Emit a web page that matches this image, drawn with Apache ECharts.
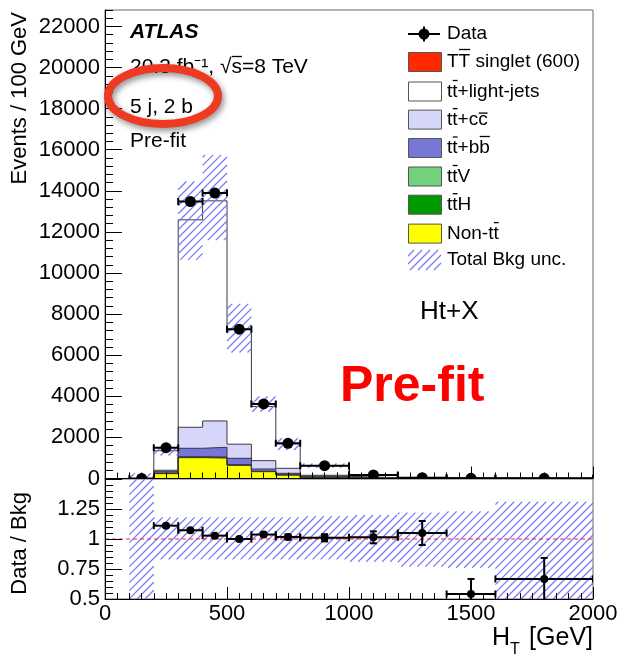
<!DOCTYPE html>
<html>
<head>
<meta charset="utf-8">
<title>HT pre-fit, 5 j 2 b</title>
<script src="https://cdn.jsdelivr.net/npm/echarts@6.0.0/dist/echarts.min.js"></script>
<style>
  html, body { margin: 0; padding: 0; background: #ffffff; }
  #chart { width: 620px; height: 661px; }
</style>
</head>
<body>
<div id="chart"></div>
<script>
// bins in GeV
const binLow  = [100, 200, 300, 400, 500, 600, 700, 800, 1000, 1200, 1400, 1600];
const binHigh = [200, 300, 400, 500, 600, 700, 800, 1000, 1200, 1400, 1600, 2000];

// background components, events / 100 GeV (bottom of the stack first)
const nonTT   = [0, 235, 1013, 995, 640, 333, 170, 58, 15, 5, 2, 2];
const ttH     = [0, 10, 20, 20, 15, 8, 5, 4, 2, 1, 0, 0];
const ttV     = [0, 15, 30, 30, 20, 12, 8, 6, 3, 1, 1, 0];
const ttbb    = [0, 73, 407, 475, 308, 110, 70, 40, 15, 5, 2, 2];
const ttcc    = [0, 67, 1023, 1280, 687, 404, 243, 48, 15, 5, 3, 2];
const ttlight = [0, 951, 10097, 10712, 5595, 2635, 1188, 464, 120, 23, 12, 9];

// total background uncertainty band (events)
const bandLow  = [0, 1120, 10640, 11600, 6130, 3250, 1390, 520, 140, 30, 14, 10];
const bandHigh = [260, 1600, 14450, 15750, 8500, 3990, 1960, 730, 200, 55, 26, 20];

// data
const dataY = [5, 1500, 13480, 13890, 7265, 3628, 1713, 625, 172, 42, 11, 10];

// ratio panel
const ratioVal   = [null, 1.111, 1.073, 1.028, 1.0, 1.037, 1.017, 1.01, 1.014, 1.05, 0.542, 0.667];
const ratioErr   = [null, 0.012, 0.008, 0.008, 0.01, 0.015, 0.02, 0.03, 0.05, 0.1, 0.125, 0.175];
const ratioBandLow  = [0, 0.83, 0.83, 0.83, 0.83, 0.83, 0.83, 0.83, 0.81, 0.77, 0.76, 0.3];
const ratioBandHigh = [3, 1.18, 1.18, 1.18, 1.18, 1.18, 1.18, 1.19, 1.2, 1.22, 1.23, 1.31];

// axis ticks
const yMajorTicks = [0, 2000, 4000, 6000, 8000, 10000, 12000, 14000, 16000, 18000, 20000, 22000];

const FONT = '"Liberation Sans", Arial, Helvetica, sans-serif';
const HATCH = '#7a7af5';

// diagonal "/" hatch lines inside a rectangle, aligned to the page
function hatchLines(x0, y0, w, h) {
  const step = 8;
  const x1 = x0 + w, y1 = y0 + h;
  const out = [];
  for (let k = Math.ceil((x0 + y0) / step) * step; k <= x1 + y1; k += step) {
    const xa = Math.max(x0, k - y1), xb = Math.min(x1, k - y0);
    if (xb - xa < 0.5) continue;
    out.push({ type: 'line', silent: true, z: 100,
      shape: { x1: xa, y1: k - xa, x2: xb, y2: k - xb },
      style: { stroke: HATCH, lineWidth: 1.3 } });
  }
  return out;
}

const sumArr = (...arrs) => arrs[0].map((_, i) => arrs.reduce((s, a) => s + a[i], 0));
const cumH = sumArr(nonTT, ttH);
const cumV = sumArr(nonTT, ttH, ttV);
const cumBB = sumArr(nonTT, ttH, ttV, ttbb);
const cumCC = sumArr(nonTT, ttH, ttV, ttbb, ttcc);
const cumAll = sumArr(nonTT, ttH, ttV, ttbb, ttcc, ttlight);

function stepPoints(vals) {
  const pts = [[binLow[1], 0]];
  for (let i = 1; i < vals.length; i++) {
    pts.push([binLow[i], vals[i]], [binHigh[i], vals[i]]);
  }
  pts.push([binHigh[vals.length - 1], 0]);
  return pts;
}

const stackDefs = [
  { vals: cumAll, color: '#ffffff' },
  { vals: cumCC, color: '#d6d6fa' },
  { vals: cumBB, color: '#7676d6' },
  { vals: cumV, color: '#72d17c' },
  { vals: cumH, color: '#009a00' },
  { vals: nonTT, color: '#ffff00' }
];

const stackSeries = stackDefs.map(d => ({
  type: 'line',
  xAxisIndex: 0, yAxisIndex: 0,
  data: stepPoints(d.vals),
  symbol: 'none',
  silent: true,
  lineStyle: { color: '#3a3a3a', width: 1 },
  areaStyle: { color: d.color, opacity: 1 },
  z: 2
}));

function clipOf(params) {
  const cs = params.coordSys;
  return { x: cs.x, y: cs.y, width: cs.width, height: cs.height };
}

function renderBand(params, api) {
  const a = api.coord([api.value(0), api.value(3)]);
  const b = api.coord([api.value(1), api.value(2)]);
  const rect = echarts.graphic.clipRectByRect(
    { x: a[0], y: a[1], width: b[0] - a[0], height: b[1] - a[1] }, clipOf(params));
  if (!rect) return null;
  return { type: 'group', children: hatchLines(rect.x, rect.y, rect.width, rect.height) };
}

function errBars(params, api, cap, r) {
  const x = api.value(0), y = api.value(1);
  const c = api.coord([x, y]);
  const l = api.coord([api.value(2), y]);
  const h = api.coord([api.value(3), y]);
  const st = { stroke: '#000', lineWidth: 2 };
  const kids = [
    { type: 'line', shape: { x1: l[0], y1: c[1], x2: h[0], y2: c[1] }, style: st },
    { type: 'line', shape: { x1: l[0], y1: c[1] - cap, x2: l[0], y2: c[1] + cap }, style: st },
    { type: 'line', shape: { x1: h[0], y1: c[1] - cap, x2: h[0], y2: c[1] + cap }, style: st }
  ];
  if (api.value(4) != null && !isNaN(api.value(4))) {
    const lo = api.coord([x, api.value(4)]);
    const hi = api.coord([x, api.value(5)]);
    kids.push(
      { type: 'line', shape: { x1: c[0], y1: lo[1], x2: c[0], y2: hi[1] }, style: st },
      { type: 'line', shape: { x1: c[0] - cap, y1: lo[1], x2: c[0] + cap, y2: lo[1] }, style: st },
      { type: 'line', shape: { x1: c[0] - cap, y1: hi[1], x2: c[0] + cap, y2: hi[1] }, style: st }
    );
  }
  kids.push({ type: 'circle', shape: { cx: c[0], cy: c[1], r: r }, style: { fill: '#000' } });
  return { type: 'group', clipPath: { type: 'rect', shape: clipOf(params) }, children: kids };
}

const centers = binLow.map((lo, i) => (lo + binHigh[i]) / 2);
const mainData = dataY.map((v, i) => [centers[i], v, binLow[i], binHigh[i]]);
const ratioData = [];
ratioVal.forEach((v, i) => {
  if (v != null) ratioData.push([centers[i], v, binLow[i], binHigh[i], v - ratioErr[i], v + ratioErr[i]]);
});

// ---- text helpers (overlines drawn as short lines above characters)
const measureCtx = document.createElement('canvas').getContext('2d');
function textBar(x, y, parts, size, extra) {
  extra = extra || {};
  measureCtx.font = (extra.fontStyle || 'normal') + ' ' + (extra.fontWeight || 'normal') + ' ' + size + 'px ' + FONT;
  const els = [];
  let cx = x, full = '';
  parts.forEach(p => {
    const s = p[0], bar = p[1];
    const w = measureCtx.measureText(s).width;
    if (bar) {
      els.push({ type: 'line', z: 100,
        shape: { x1: cx + 0.5, y1: y - bar, x2: cx + w, y2: y - bar },
        style: { stroke: '#000', lineWidth: 1.3 } });
    }
    cx += w; full += s;
  });
  els.push(txt(x, y, full, size, extra));
  return els;
}
function txt(x, y, text, size, extra) {
  return {
    type: 'text', x: x, y: y, z: 100,
    style: Object.assign({
      text: text, fill: '#000', fontSize: size, fontFamily: FONT,
      align: 'left', verticalAlign: 'middle', textAlign: 'left', textVerticalAlign: 'middle'
    }, extra || {})
  };
}

// ---- legend
const legX = 408, legW = 33, legH = 19, legTextX = 447, legSize = 19;
const legRows = [34, 62, 91.5, 119.6, 148, 176.5, 204.7, 233.6, 260];
const legendBoxes = [
  { color: '#ff2a00', label: [['T', 0], ['T', 12.5], [' singlet (600)', 0]] },
  { color: '#ffffff', label: [['t', 0], ['t', 11], ['+light-jets', 0]] },
  { color: '#d6d6fa', label: [['t', 0], ['t', 11], ['+c', 0], ['c', 6.5]] },
  { color: '#7676d6', label: [['t', 0], ['t', 11], ['+b', 0], ['b', 11.5]] },
  { color: '#72d17c', label: [['t', 0], ['t', 11], ['V', 0]] },
  { color: '#009a00', label: [['t', 0], ['t', 11], ['H', 0]] },
  { color: '#ffff00', label: [['Non-t', 0], ['t', 11]] }
];

const graphics = [];
// Data entry
graphics.push(
  { type: 'line', z: 100, shape: { x1: legX, y1: legRows[0], x2: legX + legW - 1, y2: legRows[0] }, style: { stroke: '#000', lineWidth: 2 } },
  { type: 'line', z: 100, shape: { x1: legX + 16, y1: legRows[0] - 7.5, x2: legX + 16, y2: legRows[0] + 7.5 }, style: { stroke: '#000', lineWidth: 2 } },
  { type: 'circle', z: 100, shape: { cx: legX + 16, cy: legRows[0], r: 5.5 }, style: { fill: '#000' } }
);
graphics.push(txt(legTextX, legRows[0], 'Data', legSize));
legendBoxes.forEach((b, i) => {
  const y = legRows[i + 1];
  graphics.push({ type: 'rect', z: 100, shape: { x: legX + 0.5, y: y - legH / 2, width: legW, height: legH },
    style: { fill: b.color, stroke: '#555', lineWidth: 1 } });
  graphics.push(...textBar(legTextX, y, b.label, legSize));
});
graphics.push(...hatchLines(legX, legRows[8] - 10, legW, 20));
graphics.push(txt(legTextX, legRows[8], 'Total Bkg unc.', legSize));

// ATLAS labels
graphics.push(txt(130, 32, 'ATLAS', 21, { fontWeight: 'bold', fontStyle: 'italic' }));
graphics.push(...textBar(130, 67, [['20.3 fb\u207B\u00B9, \u221A', 0], ['s', 10.5], ['=8 TeV', 0]], 21));
graphics.push(txt(130, 107, '5 j, 2 b', 21));
graphics.push(txt(130, 141, 'Pre-fit', 21));
graphics.push(txt(420, 312, 'Ht+X', 26));
graphics.push(txt(340, 387, 'Pre-fit', 50, { fill: '#ff0000', fontWeight: 'bold' }));

// red ellipse annotation
graphics.push({ type: 'ellipse', z: 110, shape: { cx: 163, cy: 96, rx: 55, ry: 28 },
  style: { fill: 'none', stroke: '#ee3a22', lineWidth: 8,
    shadowBlur: 6, shadowColor: 'rgba(0,0,0,0.45)', shadowOffsetX: 2, shadowOffsetY: 3 } });

// axis titles
graphics.push(txt(20, 12, 'Events / 100 GeV', 22, { align: 'right', textAlign: 'right' }));
graphics[graphics.length - 1].rotation = Math.PI / 2;
graphics.push(txt(20, 492, 'Data / Bkg', 22, { align: 'right', textAlign: 'right' }));
graphics[graphics.length - 1].rotation = Math.PI / 2;
graphics.push(txt(492, 651, 'H', 25, { verticalAlign: 'bottom', textVerticalAlign: 'bottom' }));
graphics.push(txt(510, 658, 'T', 16, { verticalAlign: 'bottom', textVerticalAlign: 'bottom' }));
graphics.push(txt(593, 651, ' [GeV]', 25, { align: 'right', textAlign: 'right', verticalAlign: 'bottom', textVerticalAlign: 'bottom' }));

const axisLine = { show: true, lineStyle: { color: '#000', width: 1 } };
const labelStyle = { color: '#000', fontSize: 22, fontFamily: FONT, formatter: v => String(v) };

const option = {
  animation: false,
  backgroundColor: '#ffffff',
  grid: [
    { left: 105, top: 10, width: 488, height: 468.5, show: true, borderColor: '#666', borderWidth: 1,
      backgroundColor: 'transparent', containLabel: false, outerBoundsMode: 'none' },
    { left: 105, top: 479, width: 488, height: 120, show: true, borderColor: '#666', borderWidth: 1,
      backgroundColor: 'transparent', containLabel: false, outerBoundsMode: 'none' }
  ],
  xAxis: [
    { type: 'value', gridIndex: 0, min: 0, max: 2000, interval: 500, z: 10,
      axisLine: axisLine,
      axisTick: { inside: true, length: 12, lineStyle: { color: '#000' } },
      minorTick: { show: true, splitNumber: 10, length: 6, lineStyle: { color: '#000' } },
      axisLabel: { show: false }, splitLine: { show: false } },
    { type: 'value', gridIndex: 1, min: 0, max: 2000, interval: 500, z: 10,
      axisLine: axisLine,
      axisTick: { inside: true, length: 12, lineStyle: { color: '#000' } },
      minorTick: { show: true, splitNumber: 10, length: 6, lineStyle: { color: '#000' } },
      axisLabel: Object.assign({ margin: 4 }, labelStyle), splitLine: { show: false } }
  ],
  yAxis: [
    { type: 'value', gridIndex: 0, position: 'left', min: 0, max: 22800, interval: 400, z: 10,
      axisLine: axisLine,
      axisTick: { inside: true, length: 8, lineStyle: { color: '#000' } },
      axisLabel: { show: false }, splitLine: { show: false } },
    { type: 'value', gridIndex: 0, position: 'left', min: 0, max: 22800, interval: 2000, z: 10,
      axisLine: { show: false },
      axisTick: { inside: true, length: 17, customValues: yMajorTicks, lineStyle: { color: '#000' } },
      axisLabel: Object.assign({ margin: 5, customValues: yMajorTicks }, labelStyle),
      splitLine: { show: false } },
    { type: 'value', gridIndex: 1, position: 'left', min: 0.5, max: 1.5, interval: 0.25, z: 10,
      axisLine: axisLine,
      axisTick: { inside: true, length: 17, lineStyle: { color: '#000' } },
      minorTick: { show: true, splitNumber: 5, length: 8, lineStyle: { color: '#000' } },
      axisLabel: Object.assign({ margin: 5, showMaxLabel: false }, labelStyle),
      splitLine: { show: false } }
  ],
  series: [
    ...stackSeries,
    { type: 'custom', xAxisIndex: 0, yAxisIndex: 0, z: 3, silent: true,
      data: binLow.map((lo, i) => [lo, binHigh[i], bandLow[i], bandHigh[i]]),
      encode: { x: [0, 1], y: [2, 3] }, renderItem: renderBand },
    { type: 'custom', xAxisIndex: 0, yAxisIndex: 0, z: 4, silent: true,
      data: mainData, encode: { x: 0, y: 1 },
      renderItem: (p, api) => errBars(p, api, 3.5, 5.5) },
    { type: 'custom', xAxisIndex: 1, yAxisIndex: 2, z: 3, silent: true,
      data: binLow.map((lo, i) => [lo, binHigh[i], ratioBandLow[i], ratioBandHigh[i]]),
      encode: { x: [0, 1], y: [2, 3] }, renderItem: renderBand },
    { type: 'line', xAxisIndex: 1, yAxisIndex: 2, z: 3, silent: true, symbol: 'none',
      data: [[0, 1], [2000, 1]],
      lineStyle: { color: '#e03030', width: 1, type: [4, 3] } },
    { type: 'custom', xAxisIndex: 1, yAxisIndex: 2, z: 4, silent: true,
      data: ratioData, encode: { x: 0, y: 1 },
      renderItem: (p, api) => errBars(p, api, 3.5, 4) }
  ],
  graphic: { elements: graphics }
};

const chart = echarts.init(document.getElementById('chart'));
chart.setOption(option);
</script>
</body>
</html>
